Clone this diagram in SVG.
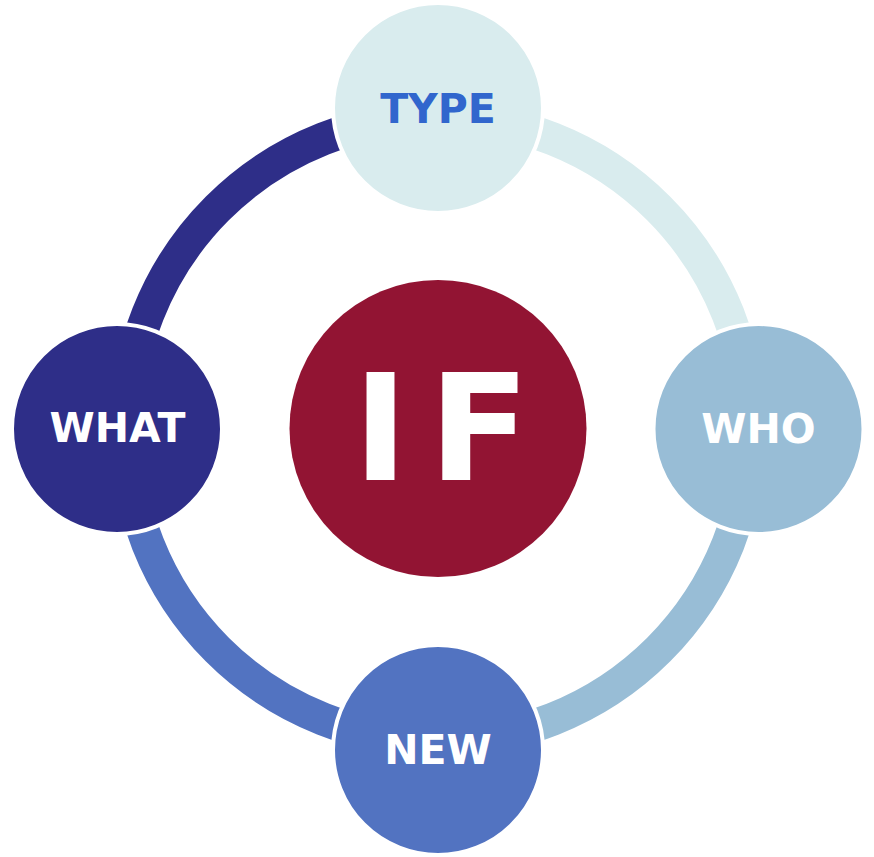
<svg xmlns="http://www.w3.org/2000/svg" width="874" height="857" viewBox="0 0 874 857">
<style>
.arc{fill:none;stroke-width:33}
.node{stroke:#ffffff;stroke-width:4}
.lbl{font-family:"DejaVu Sans",Verdana,sans-serif;font-weight:bold;font-size:41px;text-anchor:middle;fill:#ffffff}
</style>
<rect width="874" height="857" fill="#ffffff"/>
<g id="connectors">
<path class="arc" stroke="#d9ecee" d="M438 117 A312 312 0 0 1 750 429"/>
<path class="arc" stroke="#98bdd6" d="M750 429 A312 312 0 0 1 438 741"/>
<path class="arc" stroke="#5273c1" d="M438 741 A312 312 0 0 1 126 429"/>
<path class="arc" stroke="#2e2e88" d="M126 429 A312 312 0 0 1 438 117"/>
</g>
<g id="center">
<circle cx="438" cy="428.5" r="148.5" fill="#921433"/>
<text font-family="'DejaVu Sans',Verdana,sans-serif" font-weight="bold" font-size="148" fill="#ffffff" y="480"><tspan x="353">I</tspan><tspan x="428.7">F</tspan></text>
</g>
<g id="type">
<circle class="node" cx="438" cy="108" r="105" fill="#d9ecee"/>
<text class="lbl" x="438" y="122.7" style="fill:#3166cd">TYPE</text>
</g>
<g id="who">
<circle class="node" cx="758.5" cy="429" r="105" fill="#98bdd6"/>
<text class="lbl" x="758.5" y="443">WHO</text>
</g>
<g id="new">
<circle class="node" cx="438" cy="750" r="105" fill="#5273c1"/>
<text class="lbl" x="438" y="764.3">NEW</text>
</g>
<g id="what">
<circle class="node" cx="117" cy="429" r="105" fill="#2e2e88"/>
<text class="lbl" x="117.5" y="442.3">WHAT</text>
</g>
</svg>
